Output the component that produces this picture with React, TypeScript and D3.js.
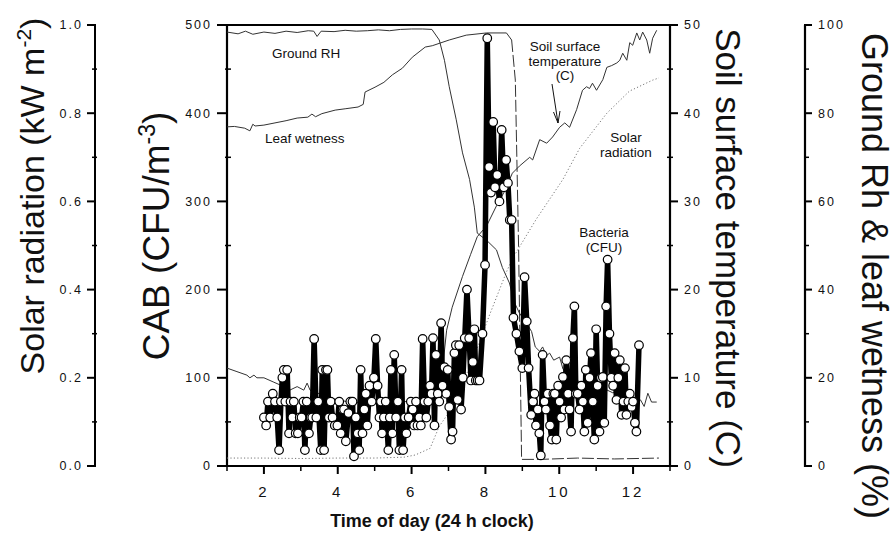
import React from 'react';
import * as d3 from 'd3';

// ---------- DATA ----------
// Bacteria (CAB, CFU/m^3) sampled over time of day (h)
const bacHour = [
  2.00, 2.06, 2.11, 2.17, 2.24, 2.30, 2.36, 2.41, 2.46, 2.50, 2.54, 2.58, 2.63, 2.68, 2.72, 2.77, 2.81, 2.86, 2.92, 2.97,
  3.02, 3.07, 3.11, 3.16, 3.22, 3.27, 3.31, 3.36, 3.42, 3.47, 3.54, 3.58, 3.63, 3.68, 3.72, 3.76, 3.81, 3.86, 3.92, 3.99,
  4.04, 4.08, 4.13, 4.17, 4.22, 4.29, 4.34, 4.40, 4.44, 4.49, 4.54, 4.58, 4.62, 4.67, 4.72, 4.76, 4.80, 4.86, 4.92, 4.98,
  5.03, 5.08, 5.13, 5.17, 5.20, 5.25, 5.30, 5.37, 5.41, 5.44, 5.48, 5.53, 5.58, 5.63, 5.67, 5.73, 5.77, 5.82, 5.86, 5.92,
  5.98, 6.03, 6.07, 6.12, 6.16, 6.21, 6.25, 6.30, 6.35, 6.40, 6.45, 6.50, 6.54, 6.58, 6.62, 6.66, 6.71, 6.75, 6.80, 6.84,
  6.89, 6.94, 6.98, 7.02, 7.07, 7.11, 7.16, 7.20, 7.25, 7.29, 7.34, 7.39, 7.44, 7.50, 7.56, 7.61, 7.66, 7.70, 7.74, 7.79,
  7.84, 7.92, 7.99, 8.05, 8.10, 8.15, 8.21, 8.26, 8.32, 8.38, 8.44, 8.50, 8.56, 8.61, 8.66, 8.71, 8.76, 8.84, 8.92, 9.00,
  9.06, 9.12, 9.17, 9.24, 9.29, 9.33, 9.37, 9.42, 9.46, 9.50, 9.55, 9.60, 9.64, 9.69, 9.75, 9.80, 9.84, 9.88, 9.92, 9.97,
  10.01, 10.05, 10.10, 10.14, 10.19, 10.24, 10.28, 10.32, 10.37, 10.41, 10.45, 10.50, 10.55, 10.60, 10.64, 10.68, 10.72, 10.77, 10.82, 10.86,
  10.91, 10.95, 11.00, 11.04, 11.09, 11.13, 11.18, 11.22, 11.27, 11.31, 11.36, 11.41, 11.46, 11.50, 11.55, 11.60, 11.64, 11.69, 11.74, 11.78,
  11.82, 11.87, 11.91, 11.96, 12.00, 12.05, 12.09, 12.16,
];
const bacCFU = [
  55, 46, 73, 55, 82, 73, 55, 18, 73, 100, 109, 73, 109, 37, 73, 55, 73, 37, 37, 55,
  55, 73, 18, 73, 37, 55, 55, 144, 55, 73, 18, 109, 18, 109, 109, 55, 73, 55, 46, 46,
  73, 37, 64, 64, 28, 60, 73, 73, 11, 55, 37, 18, 109, 37, 64, 82, 46, 91, 73, 100,
  144, 91, 55, 73, 37, 55, 73, 18, 55, 109, 37, 126, 55, 73, 18, 109, 18, 55, 37, 55,
  73, 64, 46, 73, 46, 55, 46, 144, 73, 55, 73, 91, 82, 145, 46, 126, 82, 73, 162, 91,
  112, 82, 109, 67, 30, 39, 128, 137, 75, 137, 64, 100, 145, 200, 145, 97, 118, 155, 97, 97,
  97, 150, 228, 485, 339, 310, 390, 316, 330, 300, 381, 316, 347, 321, 279, 279, 168, 150, 130, 111,
  214, 164, 111, 58, 73, 82, 46, 64, 37, 12, 126, 73, 64, 82, 46, 30, 82, 82, 30, 91,
  73, 55, 101, 64, 120, 82, 64, 39, 145, 181, 82, 82, 64, 91, 73, 39, 109, 49, 100, 128,
  73, 30, 155, 91, 39, 100, 101, 49, 181, 234, 150, 100, 91, 128, 75, 100, 120, 58, 73, 111,
  58, 73, 82, 67, 73, 49, 39, 137,
];

// Ground relative humidity (%)
const rhHour = [
  1.0, 1.3, 1.5, 1.7, 2.0, 2.3, 2.6, 2.9, 3.2, 3.35, 3.44, 3.55, 3.9, 4.2, 4.5, 4.8, 5.1, 5.4, 5.7, 6.0,
  6.3, 6.55, 6.75, 6.89, 7.02, 7.21, 7.38, 7.57, 7.7, 7.78, 8.03, 8.3, 8.46, 8.65, 8.79, 8.92, 9.14, 9.25,
  9.35, 9.47, 9.55, 9.65, 9.74, 9.85, 10.01, 10.1, 10.2, 10.28, 10.45, 10.63, 10.8, 11.01, 11.2, 11.45,
  11.6, 11.83, 12.0, 12.1, 12.2, 12.3, 12.4, 12.5, 12.64,
];
const rhVal = [
  98.4, 98.0, 98.6, 97.9, 98.4, 98.1, 98.6, 98.3, 98.7, 98.6, 97.4, 98.6, 98.5, 98.8, 98.6, 98.7, 98.9, 98.7, 99.0, 99.1,
  99.1, 99.0, 96.6, 92.0, 86.0, 78.5, 71.0, 65.0, 58.7, 52.8, 51.2, 49.0, 45.0, 41.5, 37.0, 34.7, 32.0, 30.5,
  27.0, 26.0, 27.0, 25.0, 25.6, 24.0, 24.7, 22.0, 21.0, 20.2, 19.5, 18.8, 18.4, 17.2, 17.6, 16.6,
  16.8, 15.6, 14.0, 15.8, 15.0, 13.5, 16.5, 14.5, 14.5,
];

// Leaf wetness (%)
const lwHour = [
  1.0, 1.2, 1.48, 1.62, 1.7, 1.76, 2.0, 2.3, 2.6, 2.9, 3.19, 3.3, 3.4, 3.57, 3.93, 4.2, 4.55, 4.69, 4.74, 5.01,
  5.25, 5.48, 5.75, 6.02, 6.37, 6.56, 7.02, 7.48, 8.03, 8.57, 8.71, 8.81, 8.9, 8.98, 9.5, 10.5, 11.5, 12.7,
];
const lwVal = [
  76.9, 77.0, 76.6, 76.0, 77.5, 77.1, 77.3, 77.8, 78.3, 78.9, 79.1, 79.8, 79.2, 79.9, 80.7, 81.0, 81.4, 82.0, 84.8, 85.9,
  87.0, 88.7, 90.2, 92.7, 95.0, 95.3, 96.6, 97.7, 98.2, 98.2, 96.6, 87.5, 49.0, 1.5, 1.5, 1.8, 1.6, 1.8,
];
const lwDropHour = 8.71;

// Soil surface temperature (C)
const tempHour = [
  1.0, 1.27, 1.54, 1.62, 1.73, 1.81, 2.0, 2.27, 2.54, 2.7, 2.9, 3.08, 3.17, 3.25, 3.62, 3.8, 4.25, 4.9, 5.6, 6.07,
  6.5, 6.7, 6.85, 6.95, 7.1, 7.38, 7.6, 7.78, 8.03, 8.3, 8.5, 8.73, 8.92, 9.2, 9.28, 9.47, 9.66, 9.82, 10.01, 10.15,
  10.28, 10.47, 10.55, 10.63, 10.74, 10.82, 10.9, 11.01, 11.18, 11.29, 11.42, 11.56, 11.64, 11.72, 11.83, 11.91, 11.99, 12.1, 12.18, 12.26,
  12.37, 12.45, 12.53, 12.64,
];
const tempVal = [
  11.1, 10.7, 10.3, 10.0, 10.3, 10.0, 10.0, 9.5, 9.0, 8.6, 9.0, 8.6, 9.4, 8.6, 8.0, 7.7, 7.3, 7.1, 7.3, 7.3,
  7.5, 8.5, 11.5, 15.4, 18.0, 21.5, 24.0, 26.0, 27.2, 29.5, 31.0, 33.2, 34.0, 35.0, 34.7, 37.0, 36.6, 37.3, 38.4, 38.9,
  38.4, 40.4, 41.5, 42.6, 43.0, 42.8, 43.4, 42.6, 43.8, 45.2, 45.4, 45.7, 46.0, 46.8, 46.0, 48.0, 47.7, 49.1, 48.3, 49.2,
  48.3, 46.8, 48.5, 49.4,
];

// Solar radiation (kW m-2)
const solarHour = [1.0, 2.0, 3.0, 4.0, 5.0, 5.8, 6.1, 6.5, 6.75, 7.0, 7.2, 7.66, 8.1, 8.57, 8.73, 9.38, 10.1, 10.55, 11.29, 11.9, 12.53, 12.7];
const solarVal = [0.018, 0.018, 0.017, 0.018, 0.018, 0.02, 0.025, 0.04, 0.09, 0.12, 0.156, 0.24, 0.34, 0.44, 0.47, 0.56, 0.65, 0.72, 0.8, 0.85, 0.875, 0.88];

// Ticks
const xMajor = [2, 4, 6, 8, 10, 12];
const xMinor = [1, 3, 5, 7, 9, 11, 13];
const cabTicks = [0, 100, 200, 300, 400, 500];
const solarTicks = [0, 0.2, 0.4, 0.6, 0.8, 1.0];
const tempTicks = [0, 10, 20, 30, 40, 50];
const rhTicks = [0, 20, 40, 60, 80, 100];

const FONT = 'Liberation Sans, Arial, Helvetica, sans-serif';

export default function App() {
  const yTop = 25;
  const yBot = 466;
  const x = d3.scaleLinear().domain([1, 13]).range([227, 670]);
  const yCab = d3.scaleLinear().domain([0, 500]).range([yBot, yTop]);
  const ySolar = d3.scaleLinear().domain([0, 1]).range([yBot, yTop]);
  const yTemp = d3.scaleLinear().domain([0, 50]).range([yBot, yTop]);
  const yRh = d3.scaleLinear().domain([0, 100]).range([yBot, yTop]);

  const mk = (hs: number[], vs: number[], ys: d3.ScaleLinear<number, number>) =>
    d3.line<number>().x((_, i) => x(hs[i])).y((_, i) => ys(vs[i]))(hs.map((_, i) => i)) || '';

  const rhPath = mk(rhHour, rhVal, yRh);
  const lwIdx = lwHour.findIndex((h) => h >= lwDropHour);
  const lwSolid = mk(lwHour.slice(0, lwIdx + 1), lwVal.slice(0, lwIdx + 1), yRh);
  const lwDash = mk(lwHour.slice(lwIdx), lwVal.slice(lwIdx), yRh);
  const tempPath = mk(tempHour, tempVal, yTemp);
  const solarPath = mk(solarHour, solarVal, ySolar);
  const bacPath = mk(bacHour, bacCFU, yCab);

  const minorOf = (ticks: number[]) => ticks.slice(0, -1).map((t, i) => (t + ticks[i + 1]) / 2);

  const tickLabel = { fontFamily: FONT, fontSize: 12.5, letterSpacing: 2, fill: '#111' } as const;

  return (
    <svg width={895} height={542} style={{ position: 'absolute', left: 0, top: 0, background: '#fff' }}>
      <rect x={0} y={0} width={895} height={542} fill="#fff" />

      {/* Solar radiation axis */}
      <g>
        <line x1={95} x2={95} y1={yTop} y2={yBot + 1} stroke="#000" strokeWidth={2} />
        {solarTicks.map((t) => (
          <g key={'s' + t}>
            <line x1={87} x2={96} y1={ySolar(t)} y2={ySolar(t)} stroke="#000" strokeWidth={2} />
            <text x={83} y={ySolar(t)} dy="0.35em" textAnchor="end" {...tickLabel}>
              {d3.format('.1f')(t)}
            </text>
          </g>
        ))}
        {minorOf(solarTicks).map((t) => (
          <line key={'sm' + t} x1={92} x2={97} y1={ySolar(t)} y2={ySolar(t)} stroke="#000" strokeWidth={1.5} />
        ))}
        <text
          transform={`translate(44,196) rotate(-90)`}
          textAnchor="middle"
          fontFamily={FONT}
          fontSize={34}
          fill="#111"
        >
          Solar radiation (kW m<tspan dy={-13} fontSize={21}>-2</tspan>
          <tspan dy={13}>)</tspan>
        </text>
      </g>

      {/* CAB axis */}
      <g>
        <line x1={227} x2={227} y1={yTop} y2={yBot + 1} stroke="#000" strokeWidth={2.2} />
        {cabTicks.map((t) => (
          <g key={'c' + t}>
            <line x1={217} x2={228} y1={yCab(t)} y2={yCab(t)} stroke="#000" strokeWidth={2} />
            <text x={212} y={yCab(t)} dy="0.35em" textAnchor="end" {...tickLabel}>
              {t}
            </text>
          </g>
        ))}
        {minorOf(cabTicks).map((t) => (
          <line key={'cm' + t} x1={225} x2={231} y1={yCab(t)} y2={yCab(t)} stroke="#000" strokeWidth={1.5} />
        ))}
        <text
          transform={`translate(169,236) rotate(-90)`}
          textAnchor="middle"
          fontFamily={FONT}
          fontSize={37}
          fill="#111"
        >
          CAB (CFU/m<tspan dy={-14} fontSize={23}>-3</tspan>
          <tspan dy={14}>)</tspan>
        </text>
      </g>

      {/* frame top & bottom axis */}
      <line x1={226} x2={671} y1={yTop} y2={yTop} stroke="#000" strokeWidth={2.2} />
      <line x1={226} x2={671} y1={yBot} y2={yBot} stroke="#000" strokeWidth={2.2} />
      {xMajor.map((t) => (
        <g key={'x' + t}>
          <line x1={x(t)} x2={x(t)} y1={yBot} y2={yBot + 8} stroke="#000" strokeWidth={2} />
          <text
            x={x(t)}
            y={497}
            textAnchor="middle"
            fontFamily={FONT}
            fontSize={15}
            letterSpacing={3}
            fill="#111"
          >
            {t}
          </text>
        </g>
      ))}
      {xMinor.map((t) => (
        <line key={'xm' + t} x1={x(t)} x2={x(t)} y1={yBot} y2={yBot + 5} stroke="#000" strokeWidth={1.5} />
      ))}
      <text x={432} y={527} textAnchor="middle" fontFamily={FONT} fontSize={18} fontWeight="bold" fill="#111">
        Time of day (24 h clock)
      </text>

      {/* Soil temperature axis */}
      <g>
        <line x1={670} x2={670} y1={yTop} y2={yBot + 1} stroke="#000" strokeWidth={2.2} />
        {tempTicks.map((t) => (
          <g key={'t' + t}>
            <line x1={669} x2={678} y1={yTemp(t)} y2={yTemp(t)} stroke="#000" strokeWidth={2} />
            <text x={684} y={yTemp(t)} dy="0.35em" textAnchor="start" {...tickLabel}>
              {t}
            </text>
          </g>
        ))}
        {minorOf(tempTicks).map((t) => (
          <line key={'tm' + t} x1={667} x2={673} y1={yTemp(t)} y2={yTemp(t)} stroke="#000" strokeWidth={1.5} />
        ))}
        <text
          transform={`translate(716,248) rotate(90)`}
          textAnchor="middle"
          fontFamily={FONT}
          fontSize={35}
          fill="#111"
        >
          Soil surface temperature (C)
        </text>
      </g>

      {/* RH axis */}
      <g>
        <line x1={805} x2={805} y1={yTop} y2={yBot + 1} stroke="#000" strokeWidth={2.2} />
        {rhTicks.map((t) => (
          <g key={'r' + t}>
            <line x1={804} x2={812} y1={yRh(t)} y2={yRh(t)} stroke="#000" strokeWidth={2} />
            <text x={818} y={yRh(t)} dy="0.35em" textAnchor="start" {...tickLabel}>
              {t}
            </text>
          </g>
        ))}
        {minorOf(rhTicks).map((t) => (
          <line key={'rm' + t} x1={805} x2={809} y1={yRh(t)} y2={yRh(t)} stroke="#000" strokeWidth={1.5} />
        ))}
        <text
          transform={`translate(862,276) rotate(90)`}
          textAnchor="middle"
          fontFamily={FONT}
          fontSize={36}
          fill="#111"
        >
          Ground Rh &amp; leaf wetness (%)
        </text>
      </g>

      {/* thin series */}
      <path d={solarPath} fill="none" stroke="#777" strokeWidth={1} strokeDasharray="1.2,2.2" />
      <path d={rhPath} fill="none" stroke="#333" strokeWidth={1} />
      <path d={lwSolid} fill="none" stroke="#333" strokeWidth={1} />
      <path d={lwDash} fill="none" stroke="#333" strokeWidth={1} strokeDasharray="12,3" />
      <path d={tempPath} fill="none" stroke="#333" strokeWidth={1} />

      {/* bacteria */}
      <path d={bacPath} fill="none" stroke="#000" strokeWidth={5.5} strokeLinejoin="round" />
      {bacHour.map((h, i) => (
        <circle key={'b' + i} cx={x(h)} cy={yCab(bacCFU[i])} r={4.3} fill="#fff" stroke="#000" strokeWidth={1.2} />
      ))}

      {/* annotations */}
      <g fontFamily={FONT} fontSize={13.5} fill="#111">
        <text x={272} y={58}>Ground RH</text>
        <text x={265} y={143}>Leaf wetness</text>
        <text x={565} y={51} textAnchor="middle">Soil surface</text>
        <text x={565} y={66} textAnchor="middle">temperature</text>
        <text x={565} y={80} textAnchor="middle">(C)</text>
        <text x={626} y={142} textAnchor="middle">Solar</text>
        <text x={626} y={157} textAnchor="middle">radiation</text>
        <text x={604} y={237} textAnchor="middle">Bacteria</text>
        <text x={604} y={252} textAnchor="middle">(CFU)</text>
      </g>
      <line x1={552} y1={84} x2={558} y2={123} stroke="#111" strokeWidth={1} />
      <path d="M553.5,112 L558,123 L560,111" fill="none" stroke="#111" strokeWidth={1} />
    </svg>
  );
}
